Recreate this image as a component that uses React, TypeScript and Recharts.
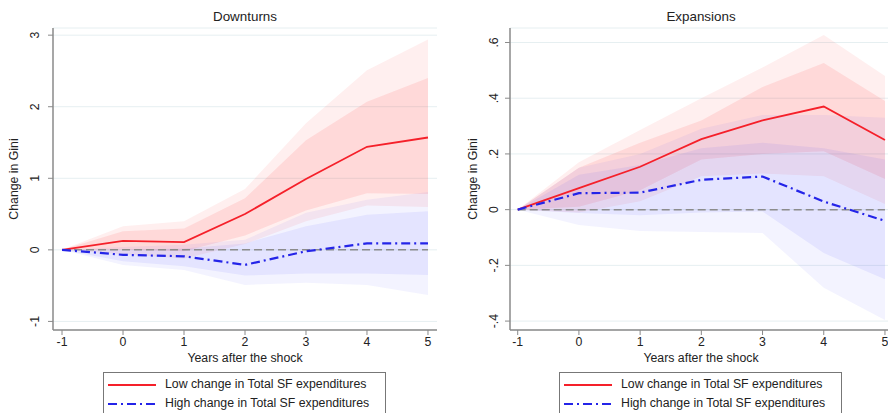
import { ComposedChart, Area, Line, XAxis, YAxis, CartesianGrid, ReferenceLine } from 'recharts';

// x: years after the shock
const years = [-1, 0, 1, 2, 3, 4, 5];

// Downturns panel
const downLow = [0, 0.125, 0.107, 0.5, 0.99, 1.44, 1.57];
const downLowInnerHi = [0, 0.26, 0.3, 0.72, 1.53, 2.07, 2.4];
const downLowInnerLo = [0, 0.0, -0.02, 0.2, 0.55, 0.79, 0.78];
const downLowOuterHi = [0, 0.33, 0.4, 0.85, 1.77, 2.51, 2.94];
const downLowOuterLo = [0, -0.06, -0.12, 0.08, 0.4, 0.62, 0.6];
const downHigh = [0, -0.07, -0.09, -0.21, -0.02, 0.09, 0.09];
const downHighInnerHi = [0, 0.0, 0.02, 0.09, 0.33, 0.49, 0.54];
const downHighInnerLo = [0, -0.16, -0.23, -0.36, -0.33, -0.33, -0.35];
const downHighOuterHi = [0, 0.04, 0.07, 0.14, 0.52, 0.7, 0.81];
const downHighOuterLo = [0, -0.21, -0.28, -0.49, -0.46, -0.49, -0.63];

// Expansions panel
const expLow = [0, 0.077, 0.154, 0.253, 0.32, 0.37, 0.25];
const expLowInnerHi = [0, 0.15, 0.24, 0.32, 0.44, 0.526, 0.39];
const expLowInnerLo = [0, 0.01, 0.07, 0.18, 0.2, 0.21, 0.11];
const expLowOuterHi = [0, 0.17, 0.286, 0.4, 0.51, 0.627, 0.48];
const expLowOuterLo = [0, -0.01, 0.03, 0.12, 0.13, 0.12, 0.02];
const expHigh = [0, 0.059, 0.061, 0.107, 0.119, 0.029, -0.04];
const expHighInnerHi = [0, 0.125, 0.16, 0.22, 0.24, 0.22, 0.18];
const expHighInnerLo = [0, -0.012, -0.02, -0.01, -0.007, -0.156, -0.25];
const expHighOuterHi = [0, 0.15, 0.2, 0.29, 0.34, 0.34, 0.33];
const expHighOuterLo = [0, -0.055, -0.077, -0.08, -0.084, -0.28, -0.396];

const downTicks = [-1, 0, 1, 2, 3];
const expTicks = [-0.4, -0.2, 0, 0.2, 0.4, 0.6];

const legendLabels = ['Low change in Total SF expenditures', 'High change in Total SF expenditures'];

const FONT = '"Liberation Sans", Arial, Helvetica, sans-serif';
const RED = '#f5202a';
const BLUE = '#2424e8';

const build = (lo, loIH, loIL, loOH, loOL, hi, hiIH, hiIL, hiOH, hiOL) =>
    years.map((x, i) => ({
        x,
        low: lo[i],
        lowInner: [loIL[i], loIH[i]],
        lowOuter: [loOL[i], loOH[i]],
        high: hi[i],
        highInner: [hiIL[i], hiIH[i]],
        highOuter: [hiOL[i], hiOH[i]],
    }));

const downData = build(downLow, downLowInnerHi, downLowInnerLo, downLowOuterHi, downLowOuterLo,
    downHigh, downHighInnerHi, downHighInnerLo, downHighOuterHi, downHighOuterLo);
const expData = build(expLow, expLowInnerHi, expLowInnerLo, expLowOuterHi, expLowOuterLo,
    expHigh, expHighInnerHi, expHighInnerLo, expHighOuterHi, expHighOuterLo);

const fmtStata = (v: number) => {
    if (Number.isInteger(v)) return String(v);
    const s = String(Math.round(v * 10) / 10);
    return s.replace('0.', '.');
};

const VTick = ({ x, y, payload, shift }: any) => (
    <text
        transform={`translate(${x - shift},${y}) rotate(-90)`}
        textAnchor="middle"
        fontSize={12.3}
        fontFamily={FONT}
        fill="#222"
    >
        {fmtStata(payload.value)}
    </text>
);

const XTick = ({ x, y, payload }: any) => (
    <text x={x} y={y + 9} textAnchor="middle" fontSize={12.3} fontFamily={FONT} fill="#222">
        {payload.value}
    </text>
);

const Panel = ({ data, domain, ticks, left, yWidth, xDomain, chartWidth, tickShift }: any) => (
    <div style={{ position: 'absolute', left, top: 0 }}>
        <ComposedChart
            width={chartWidth}
            height={375}
            data={data}
            margin={{ top: 28, right: 0, bottom: 15, left: 0 }}
        >
            <CartesianGrid horizontal vertical={false} stroke="#e6eff1" strokeWidth={1} />
            <XAxis
                dataKey="x"
                type="number"
                domain={xDomain}
                ticks={years}
                height={30}
                tickSize={5}
                tick={<XTick />}
                axisLine={{ stroke: '#8a8a8a', strokeWidth: 1.5 }}
                tickLine={{ stroke: '#8a8a8a' }}
                allowDataOverflow
            />
            <YAxis
                type="number"
                domain={domain}
                ticks={ticks}
                width={yWidth}
                tickSize={5}
                tick={<VTick shift={tickShift} />}
                axisLine={{ stroke: '#8a8a8a', strokeWidth: 1.5 }}
                tickLine={{ stroke: '#8a8a8a' }}
                allowDataOverflow
            />
            <Area dataKey="lowOuter" type="linear" stroke="none" fill="#ff2020" fillOpacity={0.07} isAnimationActive={false} dot={false} activeDot={false} />
            <Area dataKey="lowInner" type="linear" stroke="none" fill="#ff2020" fillOpacity={0.1} isAnimationActive={false} dot={false} activeDot={false} />
            <Area dataKey="highOuter" type="linear" stroke="none" fill="#3030ff" fillOpacity={0.06} isAnimationActive={false} dot={false} activeDot={false} />
            <Area dataKey="highInner" type="linear" stroke="none" fill="#3030ff" fillOpacity={0.07} isAnimationActive={false} dot={false} activeDot={false} />
            <ReferenceLine
                segment={[{ x: -1, y: 0 }, { x: 5, y: 0 }]}
                stroke="#8c8c8c"
                strokeWidth={1.5}
                strokeDasharray="8 4"
            />
            <Line dataKey="low" type="linear" stroke={RED} strokeWidth={1.8} dot={false} activeDot={false} isAnimationActive={false} />
            <Line dataKey="high" type="linear" stroke={BLUE} strokeWidth={2.2} strokeDasharray="9 4 2 4" dot={false} activeDot={false} isAnimationActive={false} />
        </ComposedChart>
    </div>
);

const textStyle = { position: 'absolute' as const, fontFamily: FONT, fontSize: 12.3, color: '#222', whiteSpace: 'nowrap' as const };

const Legend = ({ left }: { left: number }) => (
    <div
        style={{
            position: 'absolute',
            left,
            top: 372,
            width: 283,
            height: 50,
            border: '1px solid #777',
            boxSizing: 'border-box',
            background: '#fff',
        }}
    >
        <svg width={60} height={50} style={{ position: 'absolute', left: 0, top: 0 }}>
            <line x1={4} x2={52} y1={12} y2={12} stroke={RED} strokeWidth={1.8} />
            <line x1={4} x2={52} y1={31} y2={31} stroke={BLUE} strokeWidth={2.2} strokeDasharray="9 4 2 4" />
        </svg>
        <div style={{ ...textStyle, left: 61, top: 4 }}>{legendLabels[0]}</div>
        <div style={{ ...textStyle, left: 61, top: 23 }}>{legendLabels[1]}</div>
    </div>
);

const Title = ({ text, cx, y, size }: any) => (
    <div style={{ ...textStyle, fontSize: size, left: cx, top: y, transform: 'translateX(-50%)' }}>{text}</div>
);

const YLabel = ({ cx, cy }: any) => (
    <div style={{ ...textStyle, left: cx, top: cy, transform: 'translate(-50%,-50%) rotate(-90deg)' }}>
        Change in Gini
    </div>
);

export default function App() {
    return (
        <div style={{ position: 'absolute', left: 0, top: 0, width: 888, height: 413, overflow: 'hidden', background: '#fff' }}>
            <Panel
                data={downData}
                domain={[-1.12, 3.1]}
                ticks={downTicks}
                left={0}
                yWidth={53}
                chartWidth={437}
                xDomain={[-1.148, 5.148]}
                tickShift={7}
            />
            <Panel
                data={expData}
                domain={[-0.432, 0.652]}
                ticks={expTicks}
                left={440}
                yWidth={70}
                chartWidth={455}
                xDomain={[-1.126, 5.164]}
                tickShift={5}
            />
            <Title text="Downturns" cx={245} y={9} size={13.4} />
            <Title text="Expansions" cx={701} y={9} size={13.4} />
            <Title text="Years after the shock" cx={245} y={351} size={12.3} />
            <Title text="Years after the shock" cx={701} y={351} size={12.3} />
            <YLabel cx={14} cy={179} />
            <YLabel cx={473} cy={179} />
            <Legend left={103} />
            <Legend left={559} />
        </div>
    );
}
